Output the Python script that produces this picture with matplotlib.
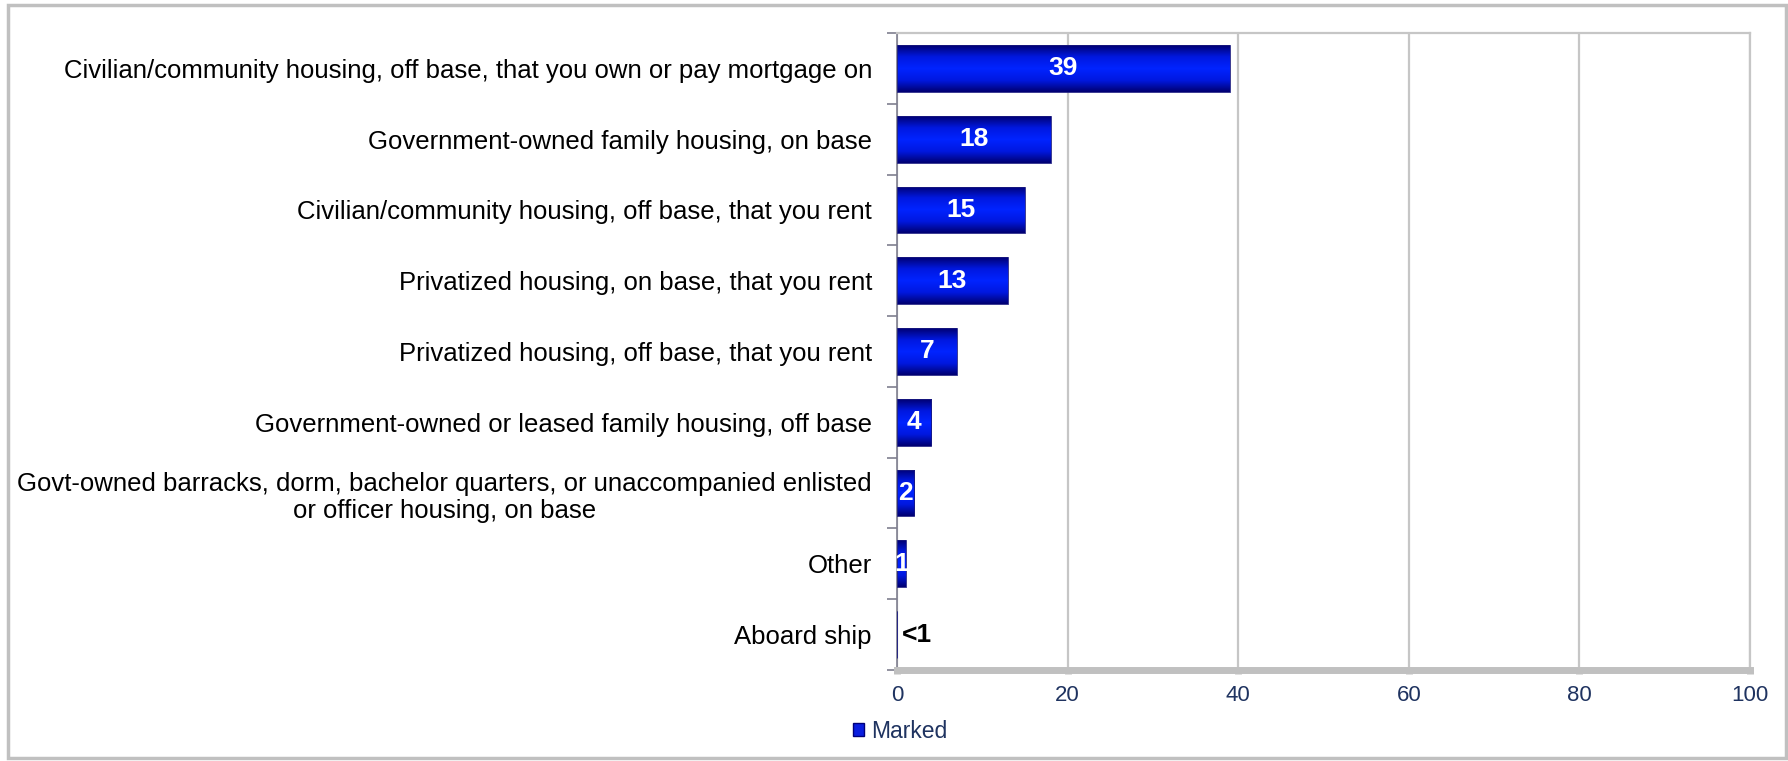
import numpy as np
import matplotlib
matplotlib.use("Agg")
import matplotlib.pyplot as plt
from matplotlib.colors import LinearSegmentedColormap
from matplotlib.patches import Rectangle, Patch

plt.rcParams['font.family'] = ['Liberation Sans', 'DejaVu Sans']

# --- data ---
categories = [
    "Civilian/community housing, off base, that you own or pay mortgage on",
    "Government-owned family housing, on base",
    "Civilian/community housing, off base, that you rent",
    "Privatized housing, on base, that you rent",
    "Privatized housing, off base, that you rent",
    "Government-owned or leased family housing, off base",
    "Govt-owned barracks, dorm, bachelor quarters, or unaccompanied enlisted\nor officer housing, on base",
    "Other",
    "Aboard ship",
]
values = [39, 18, 15, 13, 7, 4, 2, 1, 0.05]
value_labels = ["39", "18", "15", "13", "7", "4", "2", "1", "<1"]
x_ticks = [0, 20, 40, 60, 80, 100]
series_name = "Marked"

navy_text = "#1f3360"
grid_gray = "#c6c6c6"

fig = plt.figure(figsize=(17.88, 7.61), dpi=100)
ax = fig.add_axes([897 / 1788, 1 - 670 / 761, (1750 - 897) / 1788, (670 - 33) / 761])

# outer frame around the whole chart
fig.patches.append(Rectangle((8 / 1788, 3 / 761), 1778 / 1788, 753 / 761,
                             transform=fig.transFigure, fill=False,
                             edgecolor="#c0c0c0", linewidth=2.5))

y = np.arange(len(categories))
bar_h = 0.66
bars = ax.barh(y, values, height=bar_h, color="none", edgecolor="#1a1a80",
               linewidth=0.6, zorder=3)

# vertical shading inside each bar: dark at the edges, bright in the middle
shade = LinearSegmentedColormap.from_list(
    "bar_shade", [(0.0, "#000070"), (0.25, "#0018e0"), (0.5, "#0024ff"),
                  (0.75, "#0018e0"), (1.0, "#000070")])
grad = np.linspace(0, 1, 256).reshape(-1, 1)
for b in bars:
    x0, y0, w, h = b.get_x(), b.get_y(), b.get_width(), b.get_height()
    im = ax.imshow(grad, cmap=shade, aspect="auto", interpolation="bilinear",
                   extent=[x0, x0 + w, y0 + h, y0], zorder=2)
    im.set_clip_path(b)

# value labels
for yi, v, lab in zip(y, values, value_labels):
    if v >= 1:
        ax.text(v / 2, yi, lab, ha="center", va="center", color="white",
                fontsize=19, fontweight="bold", zorder=4)
    else:
        ax.text(0.6, yi, lab, ha="left", va="center", color="black",
                fontsize=19, fontweight="bold", zorder=4)

ax.set_xlim(0, 100)
ax.set_ylim(len(categories) - 0.5, -0.5)

ax.set_xticks(x_ticks)
ax.set_xticklabels([str(t) for t in x_ticks], color=navy_text, fontsize=16)
ax.tick_params(axis="x", direction="out", length=3, width=5, color="#c0c0c0", pad=8)
ax.xaxis.grid(True, color=grid_gray, linewidth=1.6, zorder=0)
ax.set_axisbelow(True)

ax.set_yticks(y)
ax.set_yticklabels(categories, fontsize=18.5, color="black")
for t in ax.get_yticklabels():
    t.set_multialignment("center")
ax.tick_params(axis="y", which="major", length=0, pad=18)
ax.set_yticks(np.arange(len(categories) + 1) - 0.5, minor=True)
ax.tick_params(axis="y", which="minor", length=7, width=1.2, color="#7f7f8f", direction="out")

ax.spines["left"].set_color("#7f7f8f")
ax.spines["left"].set_linewidth(1.2)
ax.spines["bottom"].set_color("#c0c0c0")
ax.spines["bottom"].set_linewidth(5)
for s in ("top", "right"):
    ax.spines[s].set_color(grid_gray)
    ax.spines[s].set_linewidth(1.6)

fig.legend(handles=[Patch(facecolor="#0a1ee0", edgecolor="#00007a", label=series_name)],
           loc="center left", bbox_to_anchor=(853 / 1788, 1 - 731 / 761),
           frameon=False, fontsize=16.5, handlelength=0.5, handleheight=0.5,
           handletextpad=0.3, borderpad=0, borderaxespad=0, labelcolor=navy_text)

fig.savefig("out.png", dpi=100)
